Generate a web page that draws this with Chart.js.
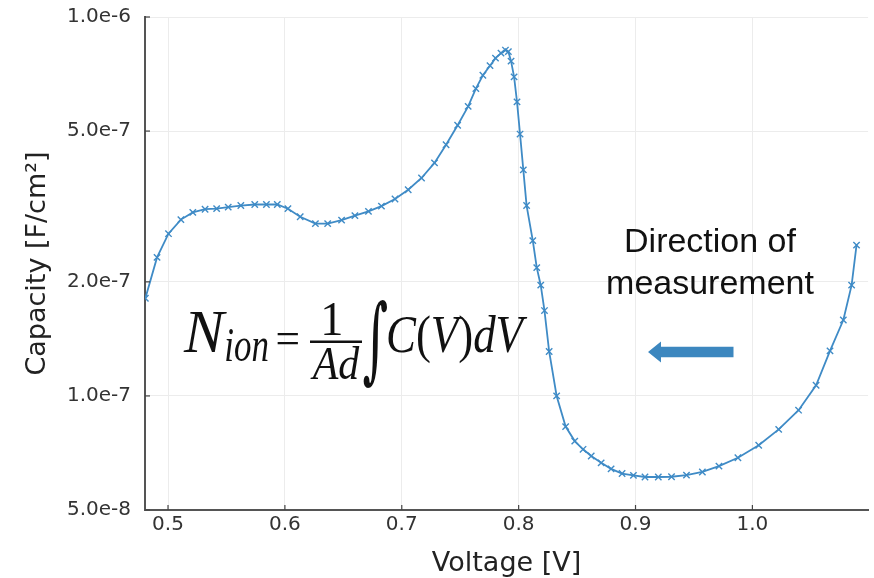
<!DOCTYPE html>
<html><head><meta charset="utf-8">
<script src="https://cdn.jsdelivr.net/npm/chart.js@4.4.1/dist/chart.umd.min.js"></script>
<style>html,body{margin:0;padding:0;background:#fff;}</style>
</head><body>
<canvas id="c" width="874" height="578" style="width:874px;height:578px;display:block"></canvas>
<script>
// ---- data ----
const voltage = [0.4806,0.4906,0.5004,0.5110,0.5212,0.5317,0.5416,0.5515,0.5623,0.5742,
  0.5842,0.5935,0.6026,0.6131,0.6261,0.6366,0.6485,0.6599,0.6715,0.6826,
  0.6942,0.7055,0.7169,0.7280,0.7379,0.7478,0.7568,0.7634,0.7694,0.7755,
  0.7802,0.7849,0.7887,0.7912,0.7935,0.7961,0.7986,0.8012,0.8040,0.8068,
  0.8121,0.8155,0.8189,0.8221,0.8261,0.8325,0.8402,0.8480,0.8551,0.8621,
  0.8706,0.8791,0.8885,0.8982,0.9081,0.9195,0.9308,0.9436,0.9572,0.9714,
  0.9876,1.0054,1.0225,1.0395,1.0545,1.0664,1.0778,1.0849,1.0891];
const capacity = [1.81e-7,2.32e-7,2.68e-7,2.92e-7,3.05e-7,3.11e-7,3.12e-7,3.15e-7,3.18e-7,3.20e-7,
  3.20e-7,3.20e-7,3.12e-7,2.97e-7,2.85e-7,2.85e-7,2.91e-7,2.99e-7,3.07e-7,3.17e-7,
  3.31e-7,3.50e-7,3.76e-7,4.12e-7,4.60e-7,5.18e-7,5.81e-7,6.47e-7,7.02e-7,7.44e-7,
  7.79e-7,8.03e-7,8.18e-7,8.10e-7,7.65e-7,6.95e-7,5.97e-7,4.91e-7,3.95e-7,3.18e-7,
  2.57e-7,2.18e-7,1.96e-7,1.68e-7,1.31e-7,1.00e-7,8.30e-8,7.60e-8,7.23e-8,6.94e-8,
  6.66e-8,6.42e-8,6.24e-8,6.17e-8,6.11e-8,6.11e-8,6.12e-8,6.18e-8,6.30e-8,6.53e-8,
  6.87e-8,7.41e-8,8.16e-8,9.17e-8,1.067e-7,1.315e-7,1.586e-7,1.96e-7,2.50e-7];
const xTicks = [0.5,0.6,0.7,0.8,0.9,1.0];
const yTicks = [5e-8,1e-7,2e-7,5e-7,1e-6];
const xTitle = 'Voltage [V]';
const yTitle = 'Capacity [F/cm²]';
const noteLines = ['Direction of','measurement'];

const LINE = '#3f8bc6';
const ARROW = '#3c87bf';

function fitText(ctx, text, font, x0, y0, x1, y1) {
  ctx.save();
  ctx.font = font; ctx.textAlign = 'left'; ctx.textBaseline = 'alphabetic';
  const m = ctx.measureText(text);
  const w = m.actualBoundingBoxLeft + m.actualBoundingBoxRight;
  const h = m.actualBoundingBoxAscent + m.actualBoundingBoxDescent;
  ctx.translate(x0, y0);
  ctx.scale((x1 - x0) / w, (y1 - y0) / h);
  ctx.fillText(text, m.actualBoundingBoxLeft, m.actualBoundingBoxAscent);
  ctx.restore();
}
function drawRuns(ctx, runs, x0, x1, baseline, capTop, size) {
  ctx.save();
  ctx.textAlign = 'left'; ctx.textBaseline = 'alphabetic';
  let W = 0;
  const widths = runs.map(r => { ctx.font = r[1] + ' ' + size + 'px "Liberation Serif"'; const w = ctx.measureText(r[0]).width; W += w; return w; });
  ctx.font = 'italic ' + size + 'px "Liberation Serif"';
  const cap = ctx.measureText('C').actualBoundingBoxAscent;
  ctx.translate(x0, baseline);
  ctx.scale((x1 - x0) / W, (baseline - capTop) / cap);
  let x = 0;
  runs.forEach((r, i) => { ctx.font = r[1] + ' ' + size + 'px "Liberation Serif"'; ctx.fillText(r[0], x, 0); x += widths[i]; });
  ctx.restore();
}

const annot = {
  id: 'annot',
  afterDraw(chart) {
    const ctx = chart.ctx;
    const {left, bottom} = chart.chartArea;
    const xs = chart.scales.x, ys = chart.scales.y;
    // inward tick marks
    ctx.save();
    ctx.strokeStyle = '#444'; ctx.lineWidth = 1.2;
    xTicks.forEach(v => { const p = xs.getPixelForValue(v); ctx.beginPath(); ctx.moveTo(p, bottom); ctx.lineTo(p, bottom - 5); ctx.stroke(); });
    yTicks.forEach(v => { const p = ys.getPixelForValue(v); ctx.beginPath(); ctx.moveTo(left, p); ctx.lineTo(left + 5, p); ctx.stroke(); });
    ctx.restore();

    // formula
    ctx.save();
    ctx.fillStyle = '#111';
    fitText(ctx, 'N', 'italic 60px "Liberation Serif"', 183, 312, 227, 352);
    fitText(ctx, 'ion', 'italic 40px "Liberation Serif"', 226, 330, 268, 361);
    fitText(ctx, '=', '60px "Liberation Serif"', 277, 333, 298, 344);
    fitText(ctx, '1', '60px "Liberation Serif"', 324, 303, 341, 335);
    ctx.fillRect(310, 340.5, 52, 2.5);
    fitText(ctx, 'Ad', 'italic 60px "Liberation Serif"', 310, 347, 360, 380);
    fitText(ctx, '∫', '80px "DejaVu Serif"', 363, 300, 387, 389);
    drawRuns(ctx, [['C','italic'],['(',''],['V','italic'],[')',''],['dV','italic']], 386, 523, 352, 317, 50);
    ctx.restore();

    // direction note
    ctx.save();
    ctx.fillStyle = '#111';
    ctx.font = '34px "Liberation Sans"';
    ctx.textAlign = 'center'; ctx.textBaseline = 'alphabetic';
    ctx.fillText(noteLines[0], 710, 252);
    ctx.fillText(noteLines[1], 710, 293.5);
    ctx.restore();

    // arrow
    ctx.save();
    ctx.fillStyle = ARROW;
    ctx.beginPath();
    ctx.moveTo(648, 352);
    ctx.lineTo(661, 341.5);
    ctx.lineTo(661, 346.7);
    ctx.lineTo(733.5, 346.7);
    ctx.lineTo(733.5, 357.3);
    ctx.lineTo(661, 357.3);
    ctx.lineTo(661, 362.5);
    ctx.closePath();
    ctx.fill();
    ctx.restore();
  }
};

new Chart(document.getElementById('c'), {
  type: 'scatter',
  data: {
    datasets: [{
      data: voltage.map((v, i) => ({x: v, y: capacity[i]})),
      showLine: true,
      borderColor: LINE,
      borderWidth: 1.8,
      tension: 0,
      pointStyle: 'crossRot',
      pointRadius: 4.5,
      pointBorderColor: LINE,
      pointBackgroundColor: LINE,
      pointBorderWidth: 1.4
    }]
  },
  options: {
    responsive: false,
    animation: false,
    devicePixelRatio: 1,
    layout: {padding: {top: 17, right: 2, left: 0, bottom: 0}},
    plugins: {legend: {display: false}, tooltip: {enabled: false}},
    scales: {
      x: {
        type: 'linear', min: 0.4803, max: 1.099,
        afterBuildTicks: s => { s.ticks = xTicks.map(v => ({value: v})); },
        afterFit: s => { s.height = 68; s.paddingLeft = 0; s.paddingRight = 0; },
        ticks: {callback: v => Number(v).toFixed(1), font: {family: 'DejaVu Sans', size: 20}, color: '#333', padding: 3, maxRotation: 0, autoSkip: false},
        grid: {color: '#ececec', lineWidth: 1, drawTicks: false},
        border: {color: '#555', width: 2},
        title: {display: true, text: xTitle, font: {family: 'DejaVu Sans', size: 27, lineHeight: 1.0}, color: '#222', padding: {top: 0, bottom: 1}}
      },
      y: {
        type: 'logarithmic', min: 5e-8, max: 1e-6,
        afterBuildTicks: s => { s.ticks = yTicks.map(v => ({value: v})); },
        afterFit: s => { s.width = 145; s.paddingTop = 0; s.paddingBottom = 0; },
        ticks: {callback: v => Number(v).toExponential(1), font: {family: 'DejaVu Sans', size: 20}, color: '#333', padding: 14, autoSkip: false},
        grid: {color: '#ececec', lineWidth: 1, drawTicks: false},
        border: {color: '#555', width: 2},
        title: {display: true, text: yTitle, font: {family: 'DejaVu Sans', size: 27}, color: '#222', padding: {top: 22, bottom: 0}}
      }
    }
  },
  plugins: [annot]
});
</script>
</body></html>
